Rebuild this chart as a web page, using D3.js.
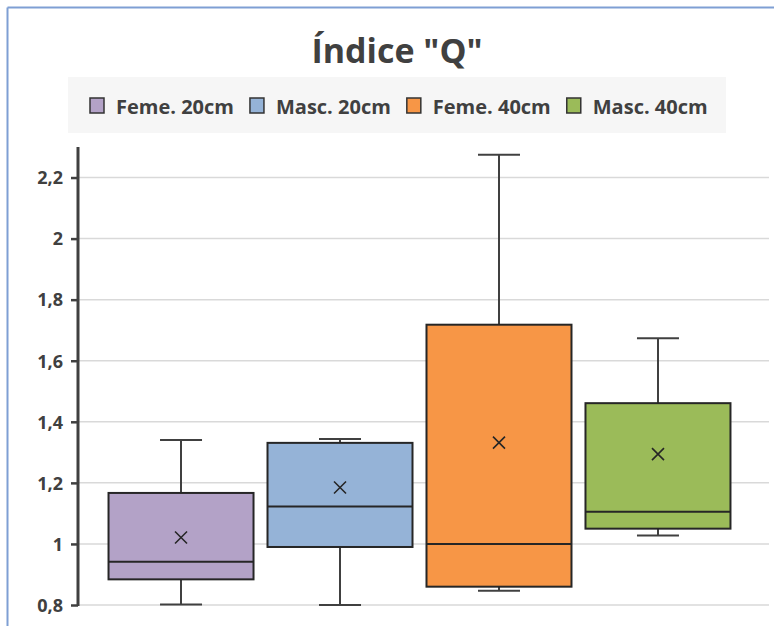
<!DOCTYPE html>
<html>
<head>
<meta charset="utf-8">
<script src="https://cdn.jsdelivr.net/npm/d3@7"></script>
<style>
    html, body { margin: 0; padding: 0; background: #fff; }
    svg { display: block; }
    text { font-family: "Open Sans", "Noto Sans", sans-serif; fill: #404040; font-weight: bold; }
</style>
</head>
<body>
<svg id="chart"></svg>
<script>
// DATA
const series      = ['Feme. 20cm', 'Masc. 20cm', 'Feme. 40cm', 'Masc. 40cm'];
const whiskerLow  = [0.802, 0.800, 0.847, 1.028];
const q1          = [0.884, 0.990, 0.860, 1.050];
const median      = [0.942, 1.123, 1.000, 1.105];
const q3          = [1.167, 1.331, 1.718, 1.461];
const whiskerHigh = [1.340, 1.344, 2.275, 1.674];
const means       = [1.021, 1.185, 1.332, 1.294];
const colors      = ['#b3a2c7', '#95b3d7', '#f79646', '#9bbb59'];
const yTicks      = [0.8, 1, 1.2, 1.4, 1.6, 1.8, 2, 2.2];

const W = 774, H = 626;
const plot = { left: 78, right: 769, top: 147, bottom: 605 };

const svg = d3.select('#chart').attr('width', W).attr('height', H);

// frame
svg.append('line').attr('x1', 7.5).attr('y1', 7.5).attr('x2', 7.5).attr('y2', H)
    .attr('stroke', '#7f9fd4').attr('stroke-width', 2);
svg.append('line').attr('x1', 7.5).attr('y1', 7.5).attr('x2', W).attr('y2', 7.5)
    .attr('stroke', '#7f9fd4').attr('stroke-width', 2);

// title
svg.append('text')
    .attr('x', 397).attr('y', 63)
    .attr('text-anchor', 'middle')
    .style('font-size', '34px')
    .text('Índice "Q"');

// SCALES
const x = d3.scaleBand().domain(series).range([plot.left, 761])
    .paddingInner(0.088).paddingOuter(0.192);
const y = d3.scaleLinear().domain([0.8, 2.3]).range([plot.bottom, plot.top]);

// LEGEND
const gLegend = svg.append('g');
gLegend.append('rect').attr('x', 68).attr('y', 77).attr('width', 658).attr('height', 56)
    .attr('fill', '#f6f6f6');
let lx = 90;
series.forEach((s, i) => {
    gLegend.append('rect')
        .attr('x', lx).attr('y', 98).attr('width', 14).attr('height', 15)
        .attr('fill', colors[i]).attr('stroke', '#333').attr('stroke-width', 1.5);
    const t = gLegend.append('text')
        .attr('x', lx + 26).attr('y', 114)
        .style('font-size', '20px')
        .text(s);
    lx += 26 + t.node().getComputedTextLength() + 16;
});

// GRID
svg.append('g').selectAll('line').data(yTicks).join('line')
    .attr('x1', plot.left).attr('x2', plot.right)
    .attr('y1', d => y(d)).attr('y2', d => y(d))
    .attr('stroke', '#d9d9d9').attr('stroke-width', 1.5);

// Y AXIS
const yAxis = d3.axisLeft(y).tickValues(yTicks).tickSize(7).tickPadding(8)
    .tickFormat(d => String(+d.toFixed(1)).replace('.', ','));
const gAxis = svg.append('g').attr('transform', 'translate(' + plot.left + ',0)').call(yAxis);
gAxis.select('.domain').attr('stroke', '#404040').attr('stroke-width', 3)
    .attr('d', 'M0,' + plot.top + 'V' + (plot.bottom + 1));
gAxis.selectAll('.tick line').attr('stroke', '#404040').attr('stroke-width', 2.5);
gAxis.selectAll('.tick text').style('font-size', '18px').attr('fill', '#404040')
    .style('font-family', '"Open Sans", "Noto Sans", sans-serif').attr('dy', '0.35em');

// BOXES
const gBox = svg.append('g');
const bw = x.bandwidth();
const capW = 42;
series.forEach((s, i) => {
    const cx = x(s) + bw / 2;
    const g = gBox.append('g');
    // whiskers
    g.append('line').attr('x1', cx).attr('x2', cx)
        .attr('y1', y(whiskerHigh[i])).attr('y2', y(q3[i]))
        .attr('stroke', '#404040').attr('stroke-width', 2);
    g.append('line').attr('x1', cx).attr('x2', cx)
        .attr('y1', y(q1[i])).attr('y2', y(whiskerLow[i]))
        .attr('stroke', '#404040').attr('stroke-width', 2);
    g.append('line').attr('x1', cx - capW / 2).attr('x2', cx + capW / 2)
        .attr('y1', y(whiskerHigh[i])).attr('y2', y(whiskerHigh[i]))
        .attr('stroke', '#404040').attr('stroke-width', 2);
    g.append('line').attr('x1', cx - capW / 2).attr('x2', cx + capW / 2)
        .attr('y1', y(whiskerLow[i])).attr('y2', y(whiskerLow[i]))
        .attr('stroke', '#404040').attr('stroke-width', 2);
    // box
    g.append('rect')
        .attr('x', x(s)).attr('y', y(q3[i]))
        .attr('width', bw).attr('height', y(q1[i]) - y(q3[i]))
        .attr('fill', colors[i]).attr('stroke', '#262626').attr('stroke-width', 2);
    // median
    g.append('line').attr('x1', x(s)).attr('x2', x(s) + bw)
        .attr('y1', y(median[i])).attr('y2', y(median[i]))
        .attr('stroke', '#262626').attr('stroke-width', 2);
    // mean marker
    const my = y(means[i]), r = 6;
    g.append('path')
        .attr('d', 'M' + (cx - r) + ',' + (my - r) + 'L' + (cx + r) + ',' + (my + r) +
                   'M' + (cx - r) + ',' + (my + r) + 'L' + (cx + r) + ',' + (my - r))
        .attr('stroke', '#262626').attr('stroke-width', 1.6).attr('fill', 'none');
});
</script>
</body>
</html>
